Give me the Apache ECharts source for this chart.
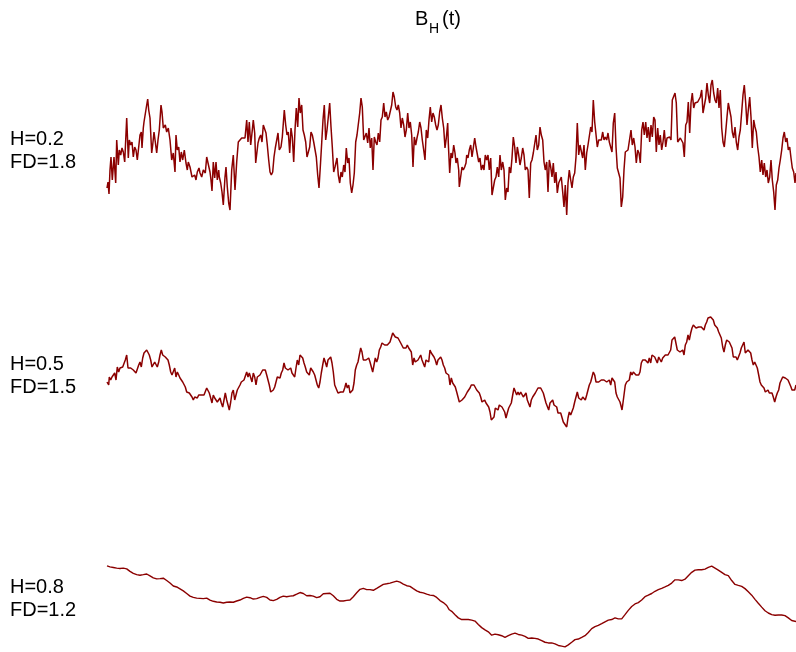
<!DOCTYPE html>
<html>
<head>
<meta charset="utf-8">
<script src="https://cdn.jsdelivr.net/npm/echarts@6/dist/echarts.min.js"></script>
<style>html,body{margin:0;padding:0;background:#fff;}#c{width:796px;height:652px;}</style>
</head>
<body>
<div id="c"></div>
<script>
// Sample index t (0..689) and B_H(t) values (arbitrary units)
const seriesLabels = [["H=0.2", "FD=1.8"], ["H=0.5", "FD=1.5"], ["H=0.8", "FD=1.2"]];
const titleMain = "B", titleSub = "H", titleTail = "(t)";

const bH02 = [[0,-38],[1,-32],[2,-44],[3,-20],[4,-7],[5.3,-30],[7,-7],[8.7,-33],[9.7,10],[11.3,-15],[12.3,0],[13.7,-5],[15,2],[16.3,-2],[17.7,-12],[19.7,32],[21.3,-8],[22.3,10],[23.7,5],[25,8],[26.3,-7],[27.7,3],[29,0],[30.3,-10],[31.7,-12],[33,15],[34.3,18],[35,2],[36.3,22],[37,28],[38.3,30],[39.7,45],[40.7,51],[41.7,40],[43,32],[44.7,-3],[45.7,5],[47,18],[48.3,8],[49.7,-3],[51,10],[52.3,20],[54,45],[55,38],[56.3,22],[58.3,25],[59.7,18],[61.3,22],[63,10],[64.7,-10],[66.3,-3],[68,-22],[69,15],[70.3,0],[71.7,3],[73,-12],[74.3,-2],[75.7,-10],[77.3,0],[79,-13],[80.3,-20],[81.3,-12],[83,-17],[85,-27],[86.3,-27],[87.7,-25],[89,-30],[90.3,-22],[92,-18],[93,-23],[94.7,-27],[96.3,-20],[98.3,-23],[99.7,-7],[101.3,-5],[103,-22],[104,-30],[105,-41],[106.3,-12],[107.7,-28],[109,-12],[110.3,-30],[111.7,-20],[112.3,-27],[113.7,-33],[115,-42],[116.3,-55],[118,-27],[119,-17],[120.3,-37],[121.7,-53],[123,-60],[124.7,-20],[126.3,-5],[128,-40],[129.7,-12],[131.3,8],[133,10],[134.7,12],[136.3,10],[138,12],[139.7,30],[141,8],[142.3,28],[143.7,5],[145,17],[146.3,30],[147.7,17],[148.7,-13],[149.7,-12],[151,7],[152.3,12],[153.7,15],[155,8],[156.3,25],[157.7,25],[159,17],[160.3,5],[161.7,-10],[163,-22],[164.3,-25],[165.7,-22],[167,-7],[168.3,2],[169.7,3],[171,17],[172.3,0],
[174,3],[175.3,13],[177.3,40],[178.7,25],[180,15],[181.3,18],[182.7,-3],[184,22],[185.3,13],[186.7,-12],[188,20],[189.3,42],[190.7,23],[192,52],[193.3,37],[194.7,45],[196,20],[197.3,15],[198.7,8],[200,-7],[201.3,-8],[202.7,3],[204,18],[205.3,15],[206.7,8],[208,10],[209.3,-7],[210.7,-25],[212,-38],[213.3,-17],[214.7,7],[216,30],[217.3,45],[218.7,10],[220,20],[221.3,33],[222.7,47],[224,23],[225.3,3],[226.7,-22],[228,-17],[230,-8],[231.3,-25],[232.7,-33],[234,-22],[235.3,-27],[236.7,-15],[238,-22],[239.3,2],[240.7,-13],[242,-8],[243.3,-33],[244.7,-43],[246,-35],[247.3,-23],[248.7,8],[250,15],[251.3,17],[252.7,37],[254,52],[255.3,43],[256.7,10],[258,8],[259.3,17],[260.7,7],[262,22],[263.3,2],[264.7,12],[266,-20],[267.3,13],[268.7,8],[270,5],[271.3,17],[272.7,8],[274,30],[275.3,33],[276.7,47],[278,33],[279.3,38],[280.7,30],[282,33],[283.3,32],[284.7,45],[286,58],[287.3,53],[288.7,43],[290,40],[291.3,45],[292.7,37],[294,22],[295.3,32],[296.7,25],[298,13],[299.3,20],[300.7,37],[302,22],[303.3,28],[304.7,15],[306,-17],[307.3,13],[308.7,5],[310,12],[311.3,18],[312.7,28],[314,22],[315.3,10],[316.7,0],[318,-10],[319.3,20],[320.7,12],[322,30],[323.3,43],[324.7,28],[326,37],[327.3,33],[328.7,25],[330,20],[331.3,25],[332.7,38],[334,45],[335.3,32],[336.7,22],[338,2],[339.3,12],[340.7,27],[341.3,7],[342.7,-23],[344,-3],[345.3,-8],[346.7,5],[348,-3],
[349,-13],[350.3,-8],[351.7,-20],[352.3,-37],[353.7,-37],[355,-17],[356.3,-20],[357.7,-17],[359,-13],[359.7,-5],[361,-8],[362.3,0],[363.7,5],[365,-7],[366.3,2],[367.7,12],[369,3],[370.3,2],[371.7,-12],[373,-8],[374.3,-20],[375.7,-15],[377,-20],[378.3,-5],[379.7,-10],[381,-5],[382.3,-20],[383.7,-8],[385,-45],[386.3,-47],[387.7,-30],[389,-27],[390.3,-17],[391.7,-27],[393,-5],[394.3,-20],[395.7,-12],[397,-20],[398.3,-50],[399.7,-38],[401,-42],[402.3,-17],[403.7,-23],[405,-8],[406.3,13],[407.7,3],[409,-13],[410.3,3],[411.7,-5],[413,-15],[414.3,-8],[415.7,2],[417,-5],[418.3,-20],[419.7,-17],[421,-20],[422.3,-48],[423.7,-13],[425,-10],[426.3,-3],[427.7,-2],[429,15],[430.3,0],[431.7,5],[433,23],[434.3,15],[435.7,10],[437,-12],[438.3,-20],[439.7,-12],[441,-42],[442.3,-10],[443.7,-17],[445,-27],[446.3,-13],[447.7,-33],[449,-22],[450.3,-43],[451.7,-33],[453,-35],[454.3,-27],[455.7,-42],[457,-57],[458.3,-35],[459.7,-65],[461,-33],[462.3,-20],[463.7,-30],[465,-38],[466.3,-27],[467.7,-23],[469,-7],[470.3,27],[471.7,-5],[473,5],[474.3,3],[475.7,-8],[477,5],[478.3,-20],[479.7,-3],[481,5],[482.3,3],[483.7,23],[485,18],[486.3,50],[487.7,28],[489,30],[490.3,3],[491.7,10],[493,12],[494.3,10],[495.7,18],[497,10],[498.3,13],[499.7,10],[501,17],[502.3,8],[503.7,10],[505,-2],[506.3,27],[507.7,37],[509,3],[510.3,-18],[511.7,-17],[513,-28],[514.3,-57],[515.7,-47],[517,-20],[518.3,-2],[519.7,0],[521,0],[522.3,-2],
[524,20],[525.3,5],[526.7,12],[528,3],[529.3,-13],[530.7,0],[532,-3],[533.3,-13],[534.7,20],[536,28],[537.3,15],[538.7,28],[540,12],[541.3,23],[542.7,8],[544,25],[545.3,13],[546.7,33],[548,30],[549.3,-2],[550.7,22],[552,5],[553.3,15],[554.7,0],[556,8],[557.3,20],[558.7,3],[560,12],[561.3,10],[562.7,13],[564,10],[565.3,50],[566.7,48],[568,57],[569.3,47],[570.7,8],[572,7],[573.3,12],[574.7,13],[576,7],[577.3,-7],[578.7,25],[580,28],[581.3,48],[582.7,17],[584,47],[585.3,57],[586.7,42],[588,47],[589.3,45],[590.7,48],[592,47],[593.3,53],[594.7,60],[596,37],[597.3,35],[598.7,52],[600,67],[601.3,55],[602.7,47],[604,65],[605.3,70],[606.7,57],[608,50],[609.3,47],[610.7,62],[612,42],[613.3,60],[614.7,22],[616,8],[617.3,3],[618.7,18],[620,33],[621.3,47],[622.7,48],[624,33],[625.3,18],[626.7,12],[628,23],[629.3,8],[630.7,0],[632,13],[633.3,20],[634.7,38],[636,55],[637.3,65],[638.7,47],[640,25],[641.3,40],[642.7,53],[644,33],[645.3,2],[646.7,30],[648,23],[649.3,18],[650.7,3],[652,-7],[653.3,-22],[654.7,-10],[656,-25],[657.3,-13],[658.7,-27],[660,-20],[661.3,-33],[662.7,-27],[664,-10],[665.3,-30],[666.7,-42],[668,-60],[669.3,-35],[670.7,-30],[672,-18],[673.3,-10],[674.7,0],[676,12],[677.3,18],[678.7,8],[680,12],[681.3,0],[682.7,3],[684,-8],[685.3,-18],[686.7,-22],[688,-33],[689,-23]];

const bH05 = [[0,-7],[0.3,-5],[1.7,-10],[2.3,-2],[3.7,-5],[5,-2],[6.3,-3],[7.7,2],[9,-5],[10.3,8],[11.7,3],[13,7],[14.3,8],[15.7,8],[17,8],[18.3,15],[19.7,20],[21,7],[22.3,8],[23.7,7],[25,8],[26.3,5],[27.7,7],[29,2],[30.3,3],[31.7,10],[33,13],[34.3,8],[35.7,17],[37,22],[38.3,20],[39.7,25],[41,25],[42.3,20],[43.7,15],[45,8],[46.3,10],[47.7,13],[49,12],[50.3,8],[51.7,13],[53,20],[54.3,25],[55.7,20],[57,18],[58.3,18],[59.7,17],[61,15],[62.3,10],[63.7,3],[65,0],[66.3,0],[67.7,7],[69,-2],[70.3,3],[71.7,0],[73,-3],[74.3,-5],[75.7,-7],[77,-5],[78.3,-12],[79.7,-17],[81,-15],[82.3,-18],[83.7,-20],[85,-22],[86.3,-25],[87.7,-22],[89,-20],[90.3,-23],[91.7,-20],[93,-22],[94.3,-20],[95.7,-22],[97,-20],[98.3,-20],[99.7,-13],[101,-15],[102.3,-18],[103.7,-23],[105,-28],[106.3,-20],[107.7,-23],[109,-22],[110.3,-27],[111.7,-25],[113,-23],[114.3,-28],[115.7,-32],[117,-25],[118.3,-18],[119.7,-25],[121,-30],[122.3,-35],[123.7,-27],[125,-18],[126.3,-15],[127.7,-25],[129,-20],[130.3,-15],[131.7,-13],[133,-10],[134.3,-7],[135.7,-5],[137,-5],[138.3,-3],[139.7,3],[141,-2],[142.3,2],[143.7,0],[145,-7],[146.3,2],[147.7,-2],[149,-10],[150.3,-2],[151.7,-3],[153,0],[154.3,0],[155.7,5],[157,3],[158.3,5],[159.7,0],[161,-5],[162.3,-10],[163.7,-17],[165,-16],[166.3,-15],[167.7,-12],[169,-7],[170.3,-2],[171.7,0],[173,-3],[174.3,2],[175.7,5],[177,12],[178.3,7],[179.7,7],[181,5],[182.3,3],[183.7,7],[185,2],[186.3,0],[187.7,-2],[189,7],[190.3,15],[191.7,10],[193,20],[194.3,20],[195.7,17],[197,12],[198.3,8],[199.7,3],[201,2],[202.3,0],[203.7,7],[205,5],[206.3,3],[207.7,0],[209,-5],[210.3,-10],[211.7,-13],[213,-7],[214.3,2],[215.7,10],[217,17],[218.3,13],[219.7,8],[221,15],[222.3,17],[223.7,18],[225,12],[226.3,3],[227.7,-10],
[228.3,-10],[229.7,-12],[231,-18],[232.3,-17],[233.7,-17],[235,-15],[236.3,-17],[237.7,-13],[239,-8],[240.3,-13],[241.7,-10],[243,-18],[244.3,-20],[245.7,-15],[247,-8],[248.3,5],[249.7,10],[251,13],[252.3,20],[253.7,27],[255,23],[256.3,15],[257.7,13],[259,15],[260.3,13],[261.7,17],[263,13],[264.3,12],[265.7,3],[267,10],[268.3,17],[269.7,13],[271,17],[272.3,25],[273.7,28],[275,32],[276.3,32],[277.7,30],[279,30],[280.3,30],[281.7,30],[283,33],[284.3,35],[285.7,42],[287,40],[288.3,38],[289.7,40],[291,37],[292.3,38],[293.7,32],[295,30],[296.3,27],[297.7,28],[299,27],[300.3,30],[301.7,27],[303,25],[304.3,23],[305.7,10],[307,17],[308.3,13],[309.7,15],[311,15],[312.3,17],[313.7,20],[315,15],[316.3,13],[317.7,8],[319,15],[320.3,15],[321.7,13],[323,25],[324.3,22],[325.7,22],[327,18],[328.3,15],[329.7,10],[331,15],[332.3,17],[333.7,18],[335,15],[336.3,10],[337.7,7],[339,2],[340.3,3],[341.7,0],[343,-10],[344.3,-3],[345.7,-8],[347,-10],[348.3,-12],[349.7,-17],[351,-22],[352.3,-27],[353.7,-28],[355,-25],[356.3,-23],[357.7,-22],[359,-20],[360.3,-17],[361.7,-17],[363,-13],[364.3,-10],[365.7,-12],[367,-10],[368.3,-10],[369.7,-15],[371,-17],[372.3,-18],[373.7,-22],[375,-27],[376.3,-28],[377.7,-25],[379,-28],[380.3,-27],[381.7,-32],[383,-37],[384.3,-45],[385.7,-45],[387,-42],[388.3,-33],[389.7,-32],[391,-35],[392.3,-30],[393.7,-28],[395,-32],[396.3,-32],[397.7,-37],[399,-43],[400.3,-38],[401.7,-33],[403,-33],[404.3,-28],[405.7,-20],[407,-13],[408.3,-15],[409.7,-20],[411,-17],[412.3,-20],[413.7,-17],[415,-18],[416.3,-22],[417.7,-20],[419,-18],[420.3,-25],[421.7,-27],[423,-32],[424.3,-25],[425.7,-22],[427,-20],[428.3,-18],[429.7,-17],[431,-13],[432.3,-15],[433.7,-13],[435,-15],[436.3,-18],[437.7,-20],[439,-28],[440.3,-30],[441.7,-35],[443,-28],[444.3,-30],[445.7,-25],[447,-30],[448.3,-28],[449.7,-32],[451,-38],[452.3,-40],[453.7,-38],[455,-40],[456.3,-47],[457.7,-45],
[458.3,-45],[459.7,-52],[461,-43],[462.3,-37],[463.7,-40],[465,-38],[466.3,-33],[467.7,-27],[469,-27],[470.3,-17],[471.7,-23],[473,-22],[474.3,-25],[475.7,-22],[477,-23],[478.3,-25],[479.7,-20],[481,-18],[482.3,-10],[483.7,-7],[485,-2],[486.3,3],[487.7,0],[489,-7],[490.3,-7],[491.7,-7],[493,-5],[494.3,-5],[495.7,-5],[497,-5],[498.3,-3],[499.7,-7],[501,-7],[502.3,-5],[503.7,-10],[505,-3],[506.3,-2],[507.7,-7],[509,-18],[510.3,-22],[511.7,-20],[513,-27],[514.3,-32],[515,-35],[515.7,-30],[517,-20],[518.3,-10],[519.7,-7],[521,-7],[522.3,-5],[523.7,3],[525,0],[526.3,3],[527.7,2],[529,0],[530.3,-2],[531.7,0],[533,3],[534.3,12],[535.7,15],[537,17],[538.3,15],[539.7,15],[541,12],[542.3,17],[543.7,12],[545,20],[546.3,22],[547.7,18],[549,18],[550.3,12],[551.7,18],[553,17],[554.3,13],[555.7,17],[557,18],[558.3,20],[559.7,18],[561,20],[562.3,22],[563.7,25],[565,35],[566.3,37],[567.7,38],[569,37],[570.3,25],[571.7,23],[573,23],[574.3,23],[575.7,25],[577,20],[578.3,30],[579.7,33],[581,40],[582.3,35],[583.7,42],[585,47],[586.3,50],[587.7,48],[589,47],[590.3,48],[591.7,48],[593,50],[594.3,48],[595.7,47],[597,45],[598.3,50],[599.7,53],[601,57],[602.3,55],[603.7,58],[605,60],[606.3,55],[607.7,50],[609,48],[610.3,47],[611.7,43],[613,45],[614.3,37],[615.7,28],[617,23],[618.3,30],[619.7,35],[621,37],[622.3,33],[623.7,35],[625,27],[626.3,18],[627.7,20],[629,18],[630.3,15],[631.7,17],[633,22],[634.3,27],[635.7,28],[637,33],[638.3,22],[639.7,20],[641,25],[642.3,27],[643.7,22],[645,15],[646.3,10],[647.7,13],[649,10],[650.3,7],[651.7,0],[653,-7],[654.3,-10],[655.7,-8],[657,-13],[658.3,-17],[659.7,-18],[661,-15],[662.3,-18],[663.7,-20],[665,-18],[666.3,-22],[667.7,-27],[669,-22],[670.3,-18],[671.7,-15],[673,-8],[674.3,-7],[675.7,-2],[677,0],[678.3,-3],[679.7,-3],[681,-5],[682.3,-8],[684,-12],[685,-15],[686.3,-17],[687.7,-15],[689,-10]];

const bH08 = [[0,43.3],[3,42.3],[6.3,41.7],[9.7,41],[13,40.7],[16.3,41],[19.7,40.3],[23,37.7],[26.3,35.7],[29.7,34.3],[33,33.7],[36.3,34.3],[39.7,35],[43,33],[46.3,31],[49.7,30],[53,30.3],[56.3,30.7],[59.7,28.3],[63,25.7],[66.3,22.7],[69.7,21.7],[73,19.7],[76.3,17.7],[79.7,15],[83,12.3],[86.3,11],[89.7,10.3],[93,10],[96.3,9.7],[99.7,10.3],[103,8.3],[106.3,7],[109.7,6.3],[113,6],[116.3,5.3],[119.7,6],[121.3,4.3],[123,6.3],[126.3,6],[129.7,7.3],[133,8.3],[136.3,10],[139.7,11.3],[143,10.7],[146.3,9.3],[149.7,9.7],[153,11],[156.3,12],[159.7,11],[163,8.3],[166.3,7.7],[169.7,9],[173,11],[176.3,12.3],[179.7,11.7],[183,12.3],[186.3,12.7],[189.7,14.3],[193,16],[196.3,15],[199.7,12.7],[203,13],[206.3,12.3],[209.7,10.7],[213,11.7],[216.3,14.7],[219.7,15],[223,15.3],[226.3,12.7],[229.7,9],[233,7.3],[236.3,7.3],[239.7,8],[243,8.3],[246.3,11.7],[249.7,15.7],[253,19.3],[256.3,20.3],[259.7,19],[263,19],[266.3,18.3],[269.7,20.3],[273,22.3],[276.3,24.3],[279.7,25],[283,25.7],[286.3,26.7],[289.7,27.7],[293,26.7],[296.3,24.7],[299.7,23],[303,22.3],[306.3,20],[309.7,17.7],[313,16.3],[316.3,15.7],[319.7,14.3],[323,13.3],[326.3,13],[329.7,11],[333,7.7],[336.3,5.7],[339.7,2.7],[342.3,-1.7],
[344.7,-3.3],[348,-6.7],[351.3,-10],[354.7,-11.7],[358,-11.7],[361.3,-11.7],[364.7,-12.3],[368,-13.3],[371.3,-16.7],[374.7,-20],[378,-22.3],[381.3,-24.3],[384.7,-27.7],[388,-26.7],[391.3,-27.3],[394.7,-28.3],[398,-30],[401.3,-28.3],[404.7,-26.7],[408,-25.7],[411.3,-27],[414.7,-27.7],[418,-29],[421.3,-31],[424.7,-30.7],[428,-31],[431.3,-31.7],[434.7,-33.3],[438,-35],[441.3,-35.7],[444.7,-35.7],[448,-36.7],[451.3,-38.3],[454.7,-39],[458,-39.7],[461.3,-37.7],[464.7,-35],[468,-32.3],[471.3,-31.7],[474.7,-30],[478,-28.3],[481.3,-25],[484.7,-21],[488,-19],[491.3,-17.7],[494.7,-16],[498,-14],[501.3,-12.3],[504.7,-11.7],[508,-10],[511.3,-11],[514.7,-11],[518,-6.7],[521.3,-2.3],[524.7,1.7],[528,4.3],[531.3,5.7],[534.7,8.3],[538,11.7],[541.3,13.3],[544.7,15],[548,17.3],[551.3,19],[554.7,20.3],[558,21.7],[561.3,23.3],[564.7,25.7],[568,29],[571.3,29],[574.7,28.3],[578,29.7],[581.3,33.3],[584.7,36.7],[588,39],[591.3,39.3],[594.7,39.3],[598,40],[601.3,41.7],[604.7,43],[608,41],[611.3,39],[614.7,36.7],[618,34.3],[621.3,33.3],[624.7,28.3],[628,24.3],[631.3,23.3],[634.7,22.3],[638,20],[641.3,16.7],[644.7,13.3],[648,9],[651.3,5],[654.7,1],[658,-2.7],[661.3,-5],[664.7,-6.7],[668,-7.3],[671.3,-7],[674.7,-7],[678,-7.7],[681.3,-10],[684.7,-12.7],[689,-13.7]];

const allSeries = [bH02, bH05, bH08];
const yRanges = [[-80, 80], [-80, 80], [-45, 75]];
const gridTops = [70, 295, 535];
const gridHeights = [160, 160, 120];
const lineColor = '#8b0000';
const lineWidths = [1.5, 1.5, 1.4];

const chart = echarts.init(document.getElementById('c'), null, {renderer: 'canvas'});
const grids = [], xAxes = [], yAxes = [], series = [];
allSeries.forEach((d, i) => {
  grids.push({left: 107, width: 689, top: gridTops[i], height: gridHeights[i]});
  xAxes.push({gridIndex: i, type: 'value', min: 0, max: 689, show: false});
  yAxes.push({gridIndex: i, type: 'value', min: yRanges[i][0], max: yRanges[i][1], show: false});
  series.push({type: 'line', xAxisIndex: i, yAxisIndex: i, data: d, showSymbol: false, silent: true,
    clip: false, lineStyle: {color: lineColor, width: lineWidths[i]}});
});
const font = 'Liberation Sans, Arial, sans-serif';
const labelY = [[139, 162], [364, 387], [587, 610]];
const graphics = [
  {type: 'text', left: 415, top: 19 - 10, style: {text: titleMain, font: '20px ' + font, fill: '#000'}},
  {type: 'text', left: 429, top: 30 - 8, style: {text: titleSub, font: '14px ' + font, fill: '#000'}},
  {type: 'text', left: 442, top: 19 - 10, style: {text: titleTail, font: '20px ' + font, fill: '#000'}}
];
seriesLabels.forEach((pair, i) => {
  pair.forEach((t, j) => {
    graphics.push({type: 'text', left: 10, top: labelY[i][j] - 10, style: {text: t, font: '20px ' + font, fill: '#000'}});
  });
});
chart.setOption({animation: false, grid: grids, xAxis: xAxes, yAxis: yAxes, series: series, graphic: graphics});
</script>
</body>
</html>
